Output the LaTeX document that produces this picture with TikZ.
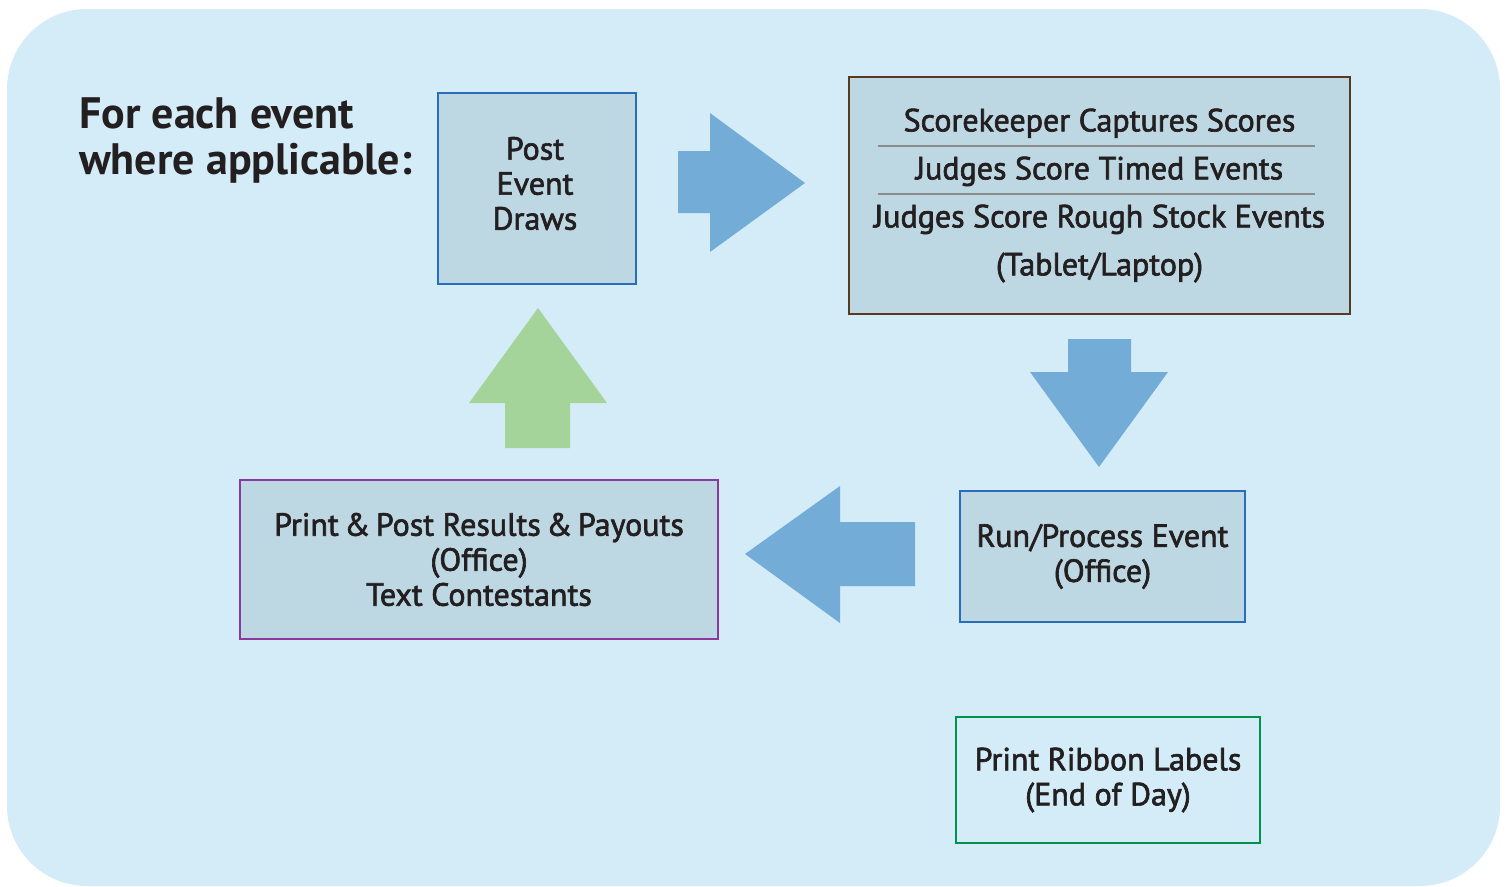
\documentclass[tikz,border=0pt]{standalone}
\usepackage{fontspec}
\setmainfont{PT Sans}
\newfontfamily\semifont{PT Sans}[FakeBold=2]
\usetikzlibrary{positioning}
\definecolor{panel}{HTML}{D4ECF7}
\definecolor{boxfill}{HTML}{BDD7E3}
\definecolor{ink}{HTML}{231F20}
\definecolor{arrowblue}{HTML}{74ACD8}
\definecolor{arrowgreen}{HTML}{A5D49A}
\definecolor{edgeblue}{HTML}{2A6EBB}
\definecolor{edgebrown}{HTML}{5A3A1E}
\definecolor{edgepurple}{HTML}{8A3A9E}
\definecolor{edgegreen}{HTML}{00924A}
\definecolor{rulegray}{HTML}{8C8C8C}
\newcommand{\amp}{\hspace{-3pt} \& \hspace{-3pt}}

\begin{document}
\begin{tikzpicture}[x=1pt,y=-1pt,
 box/.style={draw,line width=1.6pt,fill=boxfill,text=ink,align=center,
  inner sep=0pt,font=\semifont\fontsize{32}{35}\selectfont},
 boxtext/.style={text=ink,align=center,inner sep=0pt,
  font=\semifont\fontsize{32}{35}\selectfont},
 title/.style={text=ink,align=left,inner sep=0pt,
  font=\bfseries\fontsize{44}{46}\selectfont}]
\useasboundingbox (0,0) rectangle (1509,886);
\fill[panel,rounded corners=80] (7,9) rectangle (1500,886);
\node[title,anchor=west] (head) at (79,140) {For each event\\where applicable:};
\node[box,draw=edgeblue,minimum width=198,minimum height=191] (draws) at (537,188.5) {};
\node[boxtext] (drawstext) at ([xshift=-2pt,yshift=5pt]draws.center) {Post\\Event\\Draws};
\node[box,draw=edgebrown,minimum width=501,minimum height=237,
 font=\semifont\fontsize{32}{48}\selectfont] (score) at (1099.5,195.5)
 {Scorekeeper Captures Scores\\Judges Score Timed Events\\Judges Score Rough Stock Events\\(Tablet/Laptop)};
\node[box,draw=edgeblue,minimum width=285,minimum height=131] (run) at (1102.5,556.5) {Run/Process Event\\(Office)};
\node[box,draw=edgepurple,minimum width=478,minimum height=159] (post) at (479,559.5) {Print\amp Post Results\amp Payouts\\(Office)\\Text Contestants};
\node[box,draw=edgegreen,fill=none,minimum width=304,minimum height=126] (ribbon) at (1108,780) {Print Ribbon Labels\\(End of Day)};
% rules between the score lines
\foreach \y in {146,194}
 \draw[rulegray,line width=1.2pt] (878,\y) -- (1315,\y);
% block arrows
\fill[arrowblue] (678,151) -- (710,151) -- (710,113) -- (805,183) -- (710,252) -- (710,213) -- (678,213) -- cycle;
\fill[arrowblue] (1068,339) -- (1131,339) -- (1131,372) -- (1168,372) -- (1099,467) -- (1030,372) -- (1068,372) -- cycle;
\fill[arrowblue] (915,522) -- (840,522) -- (840,486) -- (745,554) -- (840,623) -- (840,586) -- (915,586) -- cycle;
\fill[arrowgreen] (505,448) -- (505,403) -- (469,403) -- (538,308) -- (607,403) -- (570,403) -- (570,448) -- cycle;
\end{tikzpicture}
\end{document}
